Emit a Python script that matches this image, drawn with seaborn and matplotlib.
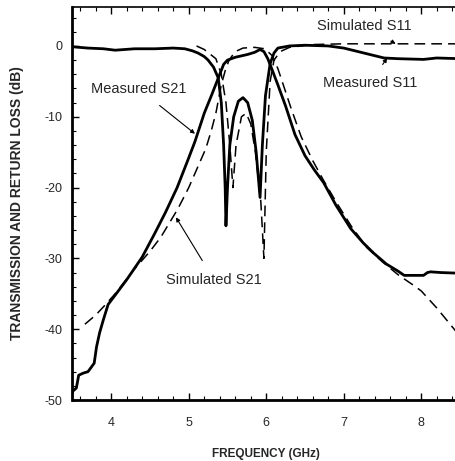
import numpy as np
import pandas as pd
import matplotlib
matplotlib.use("Agg")
import matplotlib.pyplot as plt
import seaborn as sns
from matplotlib.ticker import MultipleLocator

# ---- data ----
meas_s21_f = [3.48, 3.50, 3.55, 3.58, 3.64, 3.70, 3.74, 3.78, 3.81, 3.85, 3.90, 3.96, 4.05, 4.20,
              4.40, 4.56, 4.70, 4.85, 5.00, 5.08, 5.20, 5.30, 5.40, 5.45, 5.50, 5.60, 5.76, 5.85,
              5.92, 5.97, 6.02, 6.07, 6.15, 6.25, 6.37, 6.50, 6.62, 6.74, 6.90, 7.09, 7.25, 7.39,
              7.55, 7.70, 7.78, 7.90, 8.03, 8.08, 8.12, 8.25, 8.50]
meas_s21_db = [-50.0, -48.8, -48.3, -46.5, -46.2, -46.0, -45.4, -44.8, -42.5, -40.5, -38.6, -36.5,
               -35.2, -33.0, -29.8, -26.5, -23.5, -20.0, -15.8, -13.5, -9.5, -6.8, -4.0, -2.6,
               -2.0, -1.6, -1.2, -0.9, -0.5, -0.8, -1.8, -3.2, -5.5, -8.5, -12.5, -15.5, -17.5,
               -19.3, -22.5, -25.8, -27.8, -29.3, -30.8, -31.8, -32.4, -32.4, -32.4, -32.0,
               -31.9, -32.0, -32.1]

sim_s21_f = [3.66, 3.80, 3.92, 4.05, 4.30, 4.50, 4.64, 4.86, 5.00, 5.12, 5.22, 5.29, 5.35, 5.42,
             5.47, 5.52, 5.60, 5.70, 5.85, 5.98, 6.08, 6.15, 6.22, 6.32, 6.45, 6.60, 6.74, 6.90,
             7.10, 7.30, 7.50, 7.70, 7.90, 8.00, 8.20, 8.50]
sim_s21_db = [-39.3, -38.0, -36.6, -35.0, -31.5, -29.0, -27.0, -23.0, -20.0, -17.0, -14.5, -12.0,
              -9.5, -5.5, -3.5, -2.0, -0.8, -0.3, -0.2, -0.4, -1.4, -3.2, -5.5, -8.8, -12.8,
              -16.2, -19.0, -22.0, -25.5, -28.5, -30.5, -32.3, -33.8, -34.6, -37.0, -41.0]

meas_s11_f = [3.48, 3.70, 3.90, 4.05, 4.30, 4.56, 4.80, 4.95, 5.05, 5.12, 5.20, 5.25, 5.32, 5.38,
              5.42, 5.45, 5.47, 5.48, 5.50, 5.53, 5.58, 5.64, 5.70, 5.76, 5.82, 5.87, 5.92, 5.95,
              5.99, 6.05, 6.10, 6.15, 6.30, 6.50, 6.80, 7.00, 7.26, 7.52, 7.70, 8.03, 8.20, 8.50]
meas_s11_db = [-0.1, -0.3, -0.4, -0.6, -0.4, -0.4, -0.3, -0.4, -0.7, -1.0, -1.5, -2.0, -3.0, -4.5,
               -8.0, -14.0, -20.0, -25.4, -20.0, -14.0, -10.0, -7.8, -7.3, -8.0, -10.5, -15.0,
               -21.4, -14.0, -7.0, -2.5, -1.0, -0.3, 0.0, 0.1, 0.0, -0.3, -1.0, -1.7, -1.8,
               -1.9, -1.7, -1.8]

sim_s11_f = [5.10, 5.20, 5.35, 5.42, 5.48, 5.53, 5.57, 5.61, 5.68, 5.74, 5.80, 5.86, 5.93, 5.97,
             6.00, 6.05, 6.10, 6.18, 6.30, 6.60, 7.00, 8.50]
sim_s11_db = [0.0, -0.5, -1.8, -4.0, -8.0, -14.0, -20.0, -14.0, -10.0, -9.5, -11.0, -15.0, -22.0,
              -30.0, -15.0, -5.0, -2.0, -0.8, -0.2, 0.2, 0.3, 0.3]

x_ticks = [4, 5, 6, 7, 8]
y_ticks = [0, -10, -20, -30, -40, -50]

# ---- figure ----
sns.set_theme(style="ticks")
plt.rcParams['font.family'] = ['Liberation Sans', 'DejaVu Sans']
plt.rcParams['axes.unicode_minus'] = False

fig = plt.figure(figsize=(4.56, 4.61), dpi=100)
ax = fig.add_axes([72.5 / 456, 61 / 461, 387.5 / 456, 393 / 461])

sns.lineplot(x=meas_s21_f, y=meas_s21_db, ax=ax, color='black', lw=2.0, sort=False)
sns.lineplot(x=meas_s11_f, y=meas_s11_db, ax=ax, color='black', lw=2.0, sort=False)
sns.lineplot(x=sim_s21_f, y=sim_s21_db, ax=ax, color='black', lw=1.1, sort=False,
             linestyle=(0, (7, 4)))
sns.lineplot(x=sim_s11_f, y=sim_s11_db, ax=ax, color='black', lw=1.1, sort=False,
             linestyle=(0, (7, 4)))

ax.set_xlim(3.5, 8.5)
ax.set_ylim(-50, 5.5)
ax.set_xticks(x_ticks)
ax.set_yticks(y_ticks)
ax.xaxis.set_minor_locator(MultipleLocator(0.2))
ax.yaxis.set_minor_locator(MultipleLocator(2))
ax.tick_params(which='both', direction='in', top=True, right=False, color='black')
ax.tick_params(which='major', length=5, width=1.0)
ax.tick_params(which='minor', length=3, width=0.8)
ax.tick_params(axis='x', which='major', pad=12, labelsize=9)
ax.tick_params(axis='y', which='major', pad=7, labelsize=9)

for side in ['left', 'bottom']:
    ax.spines[side].set_linewidth(2.0)
ax.spines['top'].set_linewidth(1.2)
ax.spines['right'].set_visible(False)
for s in ax.spines.values():
    s.set_color('black')

ax.set_xlabel('FREQUENCY (GHz)', fontsize=8.5, fontweight='bold', labelpad=14)
ax.set_ylabel('TRANSMISSION AND RETURN LOSS (dB)', fontsize=10, fontweight='bold', labelpad=15)

arrow = dict(arrowstyle='-|>', color='black', lw=0.8, mutation_scale=6)
ax.annotate('Measured S21', xy=(5.08, -12.4), xytext=(4.36, -6.1), fontsize=10.5,
            ha='center', va='center', arrowprops=dict(arrow, shrinkA=7, shrinkB=0))
ax.annotate('Simulated S21', xy=(4.835, -24.2), xytext=(5.33, -33.1), fontsize=10.5,
            ha='center', va='center', arrowprops=dict(arrow, shrinkA=8, shrinkB=0))
ax.annotate('Simulated S11', xy=(7.67, 0.3), xytext=(7.26, 2.8), fontsize=10.5,
            ha='center', va='center', arrowprops=dict(arrow, shrinkA=7, shrinkB=0))
ax.annotate('Measured S11', xy=(7.56, -1.7), xytext=(7.34, -5.2), fontsize=10.5,
            ha='center', va='center', arrowprops=dict(arrow, shrinkA=7, shrinkB=0))

fig.savefig('out.png', dpi=100)
